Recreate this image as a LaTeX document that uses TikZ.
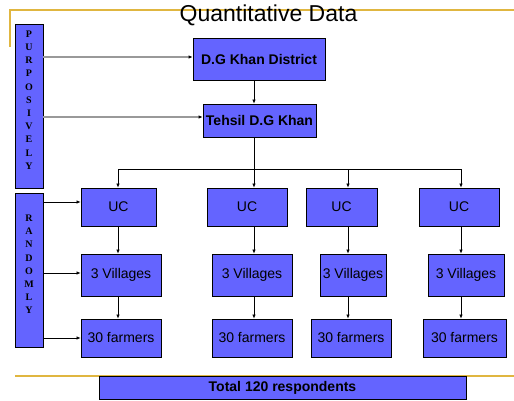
\documentclass[tikz,border=0pt]{standalone}
\usepackage{fontspec}
\setmainfont{Liberation Sans}
\newfontfamily\lettersfont{Liberation Serif}
\usetikzlibrary{arrows.meta,shadows}
\definecolor{boxblue}{RGB}{100,100,255}
\definecolor{goldline}{RGB}{224,182,64}
\begin{document}
\begin{tikzpicture}[x=1pt,y=-1pt,
  box/.style={draw=black, line width=0.8pt, fill=boxblue, inner sep=0pt,
    drop shadow={shadow xshift=1pt, shadow yshift=-1pt, fill=black!45, opacity=1},
    font=\fontsize{14}{16}\selectfont},
  bbox/.style={box, font=\fontsize{14}{16}\selectfont\bfseries},
  sidebox/.style={draw=black, line width=0.8pt, fill=boxblue, inner sep=0pt,
    drop shadow={shadow xshift=1pt, shadow yshift=-1pt, fill=black!45, opacity=1},
    minimum width=28pt},
  letters/.style={align=center, inner sep=0pt, font=\lettersfont\bfseries\fontsize{10}{13.2}\selectfont},
  arr/.style={-{Latex[length=4pt,width=3.5pt]}, line width=0.7pt, draw=black},
  garr/.style={-{Latex[length=4pt,width=3.5pt,color=black]}, line width=1.3pt, draw=black!40},
  link/.style={line width=0.7pt, draw=black},
  gold/.style={draw=goldline, line width=1.5pt}
]
\useasboundingbox (0,0) rectangle (514,401);
% gold decoration lines
\draw[gold] (10,47) -- (10,10) -- (514,10);
\draw[gold] (15,376) -- (514,376);
\node[font=\fontsize{23}{26}\selectfont, inner sep=0pt] (title) at (268.5,15) {Quantitative Data};

% side boxes
\node[sidebox, minimum height=164pt] (pur) at (29,106) {};
\node[letters] (purtxt) at (29,100) {P\\U\\R\\P\\O\\S\\I\\V\\E\\L\\Y};
\node[sidebox, minimum height=154pt] (ran) at (29,270) {};
\node[letters] (rantxt) at (29,264.5) {R\\A\\N\\D\\O\\M\\L\\Y};

% main boxes
\node[bbox, minimum width=132pt, minimum height=42pt] (dist) at (259,59) {D.G Khan District};
\node[bbox, minimum width=113pt, minimum height=33pt] (teh) at (259.5,120.5) {Tehsil D.G Khan};

\node[box, minimum width=75pt, minimum height=38pt] (uc1) at (118.5,207) {UC};
\node[box, minimum width=80pt, minimum height=38pt] (uc2) at (247,207) {UC};
\node[box, minimum width=71pt, minimum height=38pt] (uc3) at (341.5,207) {UC};
\node[box, minimum width=80pt, minimum height=38pt] (uc4) at (459,207) {UC};

\node[box, minimum width=80pt, minimum height=42pt] (v1) at (121,275) {3 Villages};
\node[box, minimum width=80pt, minimum height=42pt] (v2) at (252,275) {3 Villages};
\node[box, minimum width=66pt, minimum height=42pt] (v3) at (353,275) {3 Villages};
\node[box, minimum width=76pt, minimum height=42pt] (v4) at (466,275) {3 Villages};

\node[box, minimum width=80pt, minimum height=38pt] (f1) at (121,338) {30 farmers};
\node[box, minimum width=80pt, minimum height=38pt] (f2) at (252,338) {30 farmers};
\node[box, minimum width=80pt, minimum height=38pt] (f3) at (351,338) {30 farmers};
\node[box, minimum width=83pt, minimum height=38pt] (f4) at (464.5,338) {30 farmers};

\node[bbox, minimum width=367pt, minimum height=23pt] (total) at (282.5,387.5) {Total 120 respondents};

% column x positions and helper rows
\coordinate (c1) at (118,0);
\coordinate (c2) at (254,0);
\coordinate (c3) at (348,0);
\coordinate (c4) at (461,0);
\coordinate (bus) at (0,169);
\coordinate (ya) at (0,57);
\coordinate (yb) at (0,117);
\coordinate (yc) at (0,202);
\coordinate (yd) at (0,273);
\coordinate (ye) at (0,338);

% top chain
\draw[arr] (dist.south -| c2) -- (teh.north -| c2);
\draw[link] (teh.south -| c2) -- (bus -| c2);
\draw[link] (bus -| c1) -- (bus -| c4);
\draw[arr] (bus -| c1) -- (uc1.north -| c1);
\draw[arr] (bus -| c2) -- (uc2.north -| c2);
\draw[arr] (bus -| c3) -- (uc3.north -| c3);
\draw[arr] (bus -| c4) -- (uc4.north -| c4);

% column chains
\draw[arr] (uc1.south -| c1) -- (v1.north -| c1);
\draw[arr] (uc2.south -| c2) -- (v2.north -| c2);
\draw[arr] (uc3.south -| c3) -- (v3.north -| c3);
\draw[arr] (uc4.south -| c4) -- (v4.north -| c4);
\draw[arr] (v1.south -| c1) -- (f1.north -| c1);
\draw[arr] (v2.south -| c2) -- (f2.north -| c2);
\draw[arr] (v3.south -| c3) -- (f3.north -| c3);
\draw[arr] (v4.south -| c4) -- (f4.north -| c4);

% side arrows
\draw[garr] (pur.east |- ya) -- (dist.west |- ya);
\draw[garr] (pur.east |- yb) -- (teh.west |- yb);
\draw[arr] (ran.east |- yc) -- (uc1.west |- yc);
\draw[arr] (ran.east |- yd) -- (v1.west |- yd);
\draw[arr] (ran.east |- ye) -- (f1.west |- ye);
\end{tikzpicture}
\end{document}
